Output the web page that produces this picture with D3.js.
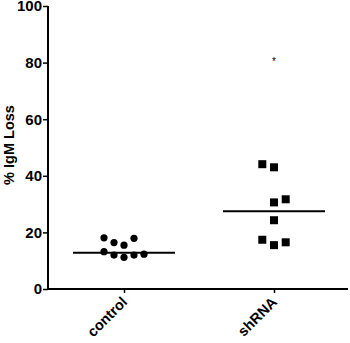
<!DOCTYPE html>
<html><head><meta charset="utf-8">
<script src="https://cdn.jsdelivr.net/npm/d3@7"></script>
<style>body{margin:0;background:#fff}</style>
</head><body>
<svg id="c" width="350" height="343"></svg>
<script>
const categories = ["control", "shRNA"];
const controlValues = [18.1, 16.4, 15.5, 17.9, 13.2, 12.0, 11.2, 12.0, 12.3];
const controlOffsets = [-2, -1, 0, 1, -2, -1, 0, 1, 2];
const shRNAValues = [44.1, 43.0, 30.6, 31.7, 24.3, 17.4, 15.5, 16.5];
const shRNAOffsets = [-1, 0, 0, 1, 0, -1, 0, 1];
const centerLines = [12.8, 27.5];
const yTicks = [0, 20, 40, 60, 80, 100];
const starValue = 81;

const svg = d3.select("#c");
const font = "Liberation Sans, Arial, sans-serif";
const y = d3.scaleLinear().domain([0, 100]).range([289, 6]);
const x = d3.scalePoint().domain(categories).range([124, 274]);
const jitter = 10;

// y axis
const yAxis = d3.axisLeft(y).tickValues(yTicks).tickSize(5).tickPadding(1).tickFormat(d3.format("d"));
const gy = svg.append("g").attr("transform", "translate(48,0)").call(yAxis);
gy.select(".domain").attr("stroke", "#000").attr("stroke-width", 2).attr("d", `M0,${y(100)}V${y(0)}`);
gy.selectAll(".tick line").attr("stroke-width", 1.5);
gy.selectAll("text").attr("font-family", font).attr("font-weight", "bold").attr("font-size", 15).attr("fill", "#000");

// x axis
const xAxis = d3.axisBottom(x).tickSize(4).tickFormat("");
const gx = svg.append("g").attr("transform", "translate(0,289)").call(xAxis);
gx.select(".domain").attr("stroke", "#000").attr("stroke-width", 2).attr("d", "M48,0H348");
gx.selectAll(".tick line").attr("stroke-width", 1.5);

svg.selectAll(".xlab").data(categories).enter().append("text")
  .attr("transform", d => `translate(${x(d) + 4},303) rotate(-45)`)
  .attr("text-anchor", "end")
  .attr("font-family", font).attr("font-weight", "bold").attr("font-size", 14.5)
  .text(d => d);

// y label
svg.append("text")
  .attr("transform", "translate(14,145) rotate(-90)")
  .attr("text-anchor", "middle")
  .attr("font-family", font).attr("font-weight", "bold").attr("font-size", 14.5)
  .text("% IgM Loss");

// center lines
svg.selectAll(".cl").data(categories).enter().append("line")
  .attr("x1", d => x(d) - 51).attr("x2", d => x(d) + 51)
  .attr("y1", (d, i) => y(centerLines[i])).attr("y2", (d, i) => y(centerLines[i]))
  .attr("stroke", "#000").attr("stroke-width", 2);

// control dots
svg.selectAll(".dot").data(controlValues).enter().append("circle")
  .attr("cx", (d, i) => x("control") + controlOffsets[i] * jitter)
  .attr("cy", d => y(d)).attr("r", 3.6).attr("fill", "#000");

// shRNA squares
const s = 8;
svg.selectAll(".sq").data(shRNAValues).enter().append("rect")
  .attr("x", (d, i) => x("shRNA") + shRNAOffsets[i] * 11.7 - s / 2)
  .attr("y", d => y(d) - s / 2).attr("width", s).attr("height", s).attr("fill", "#000");

svg.append("text").attr("x", x("shRNA")).attr("y", y(starValue) + 5)
  .attr("text-anchor", "middle").attr("font-family", font).attr("font-size", 10).text("*");
</script>
</body></html>
